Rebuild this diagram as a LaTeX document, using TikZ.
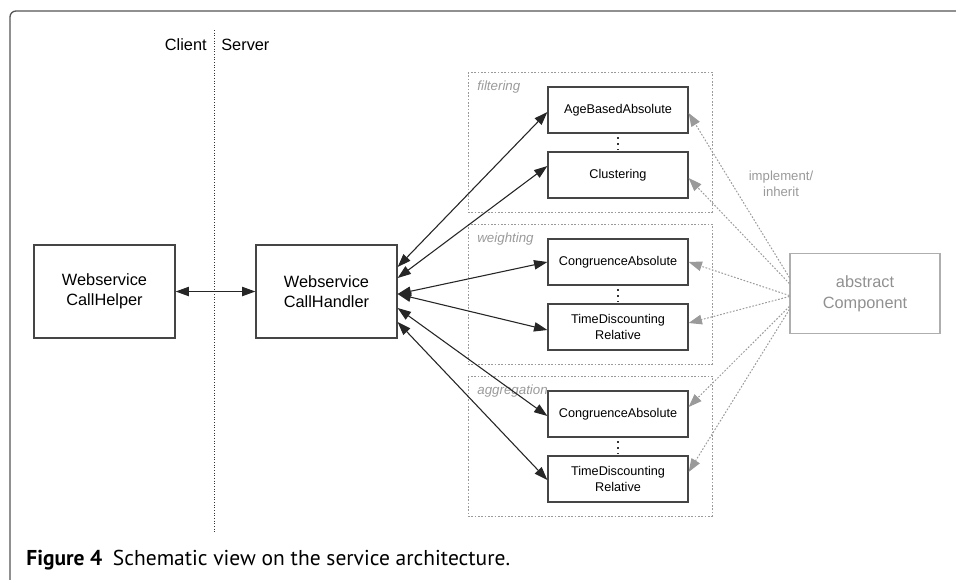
\documentclass[tikz,border=0pt]{standalone}
\usepackage{fontspec}
\setmainfont{Liberation Sans}
\newfontfamily\capfont{PT Sans}
\usetikzlibrary{calc,positioning,arrows.meta}
\definecolor{boxline}{HTML}{454545}
\definecolor{lightgr}{HTML}{9A9A9A}
\definecolor{framegr}{HTML}{555555}

\begin{document}
\begin{tikzpicture}[x=0.6pt, y=-0.6pt,
 box/.style={draw=boxline, line width=0.75pt, minimum width=84.6pt, minimum height=55.8pt, inner sep=0pt, align=center, font=\fontsize{9.8}{12}\selectfont},
 comp/.style={draw=boxline, line width=0.75pt, minimum width=84pt, minimum height=27.6pt, inner sep=0pt, align=center, font=\fontsize{7.6}{9.4}\selectfont},
 absbox/.style={draw=lightgr!80, line width=0.75pt, minimum width=90pt, minimum height=48pt, inner sep=0pt, align=center, text=lightgr!110, font=\fontsize{9.8}{12.5}\selectfont},
 grp/.style={draw=lightgr, line width=0.5pt, dash pattern=on 1pt off 1pt},
 glbl/.style={anchor=base west, inner sep=0pt, text=lightgr, font=\fontsize{8}{9.6}\selectfont\itshape},
 lbl/.style={inner sep=0pt, align=center, text=lightgr, font=\fontsize{7.9}{9.6}\selectfont},
 conn/.style={draw=black!85, line width=0.65pt, {Triangle[length=8pt,width=5.6pt]}-{Triangle[length=8pt,width=5.6pt]}},
 impl/.style={draw=lightgr, line width=0.6pt, dash pattern=on 1pt off 1pt, -{Triangle[length=8pt,width=5.8pt,fill=lightgr]}},
 dots/.style={draw=black!80, line width=1.1pt, dash pattern=on 1.1pt off 2.5pt}]
\useasboundingbox (0,0) rectangle (956,579);
\draw[draw=framegr, line width=0.8pt, rounded corners=3.6pt] (10,11) rectangle (1000,620);

% client | server
\draw[black!80, line width=0.5pt, dash pattern=on 0.6pt off 1pt] (214,30) -- (214,533);
\node[anchor=base east, inner sep=0pt, font=\fontsize{9.8}{12}\selectfont] (client) at (207,50) {Client};
\node[anchor=base west, inner sep=0pt, font=\fontsize{9.8}{12}\selectfont] (server) at (221,50) {Server};

\node[box] (helper) at (104.5,291.5) {Webservice\\CallHelper};
\node[box] (handler) at (326.5,291.5) {Webservice\\CallHandler};
\draw[conn] (helper) -- (handler);

% component groups
\foreach \g/\y/\ta/\tb in {filtering/72/AgeBasedAbsolute/Clustering,
  weighting/224/CongruenceAbsolute/TimeDiscounting\\Relative,
  aggregation/376/CongruenceAbsolute/TimeDiscounting\\Relative}{
  \draw[grp] (468,\y) rectangle (712,\y+140);
  \node[glbl] (\g-lbl) at (477,\y+18) {\g};
  \node[comp] (\g-a) at (618,\y+38) {\ta};
  \node[comp] (\g-b) at (618,\y+103) {\tb};
  \draw[dots] ($(\g-a.south)+(0,3.5)$) -- ($(\g-b.north)+(0,-2)$);
}

\foreach \n/\dh/\dc in {filtering-a/-24.5/2, filtering-b/-13.5/-9, weighting-a/2.5/0,
  weighting-b/2.5/3, aggregation-a/16.5/2, aggregation-b/30.5/1}
  \draw[conn] ($(handler.east)+(0,\dh)$) -- ($(\n.west)+(0,\dc)$);

\node[absbox] (abstract) at (865,293.5) {abstract\\Component};
\node[lbl] (implbl) at (781,184) {implement/\\inherit};
\foreach \n/\ds/\dc in {filtering-a/-16/3, filtering-b/-10/3, weighting-a/2/0,
  weighting-b/3/-4, aggregation-a/13/-7, aggregation-b/16/-7}
  \draw[impl] ($(abstract.west)+(0,\ds)$) -- ($(\n.east)+(0,\dc)$);

\node[anchor=base west, inner sep=0pt, font=\capfont\fontsize{12.9}{15}\selectfont] (caption) at (26,565)
  {\textbf{Figure 4}\hspace{0.5em}Schematic view on the service architecture.};
\end{tikzpicture}
\end{document}
